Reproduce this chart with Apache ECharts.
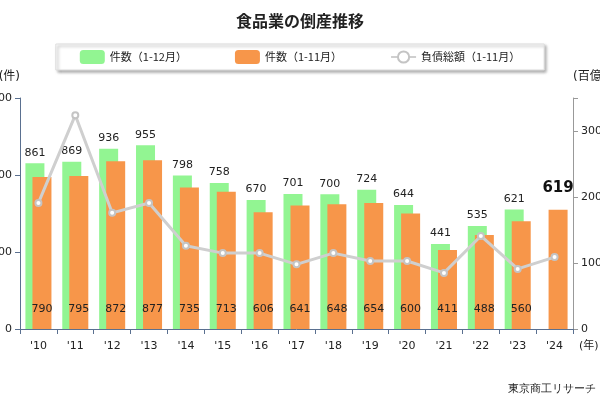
<!DOCTYPE html>
<html>
<head>
<meta charset="utf-8">
<script src="https://cdn.jsdelivr.net/npm/echarts@6/dist/echarts.min.js"></script>
<style>body{margin:0}#chart{width:600px;height:400px}</style>
</head>
<body>
<div id="chart"></div>
<script>
var years = ["'10","'11","'12","'13","'14","'15","'16","'17","'18","'19","'20","'21","'22","'23","'24"];
var full = [861,869,936,955,798,758,670,701,700,724,644,441,535,621,null];
var nov = [790,795,872,877,735,713,606,641,648,654,600,411,488,560,619];
var debt = [191,324,176,191,126,115,115,98,115,103,103,85,141,91,109];

var font = 'Verdana, "DejaVu Sans", "Noto Sans CJK JP"';
var chart = echarts.init(document.getElementById('chart'));
chart.setOption({
    textStyle:{fontFamily:font},
    title:{text:'食品業の倒産推移',left:'center',top:8,textStyle:{fontSize:16,fontWeight:'bold',color:'#222',fontFamily:'"Noto Sans CJK JP"'}},
    legend:{top:44,left:'center',itemGap:48,padding:[6,24],backgroundColor:'#fff',borderColor:'#ddd',borderWidth:1,
        shadowColor:'rgba(0,0,0,0.35)',shadowBlur:3,shadowOffsetX:2,shadowOffsetY:2,
        textStyle:{fontSize:11,color:'#222',fontFamily:'"Noto Sans CJK JP"'}},
    grid:{left:20,right:27,top:98,bottom:71,outerBoundsMode:'none',containLabel:false},
    graphic:[{type:'text',right:4,bottom:6,style:{text:'東京商工リサーチ',fontSize:11,fill:'#222',font:'11px "Noto Sans CJK JP"'}}],
    xAxis:{type:'category',data:years,axisLine:{lineStyle:{color:'#5a7090'}},axisTick:{show:true},
        axisLabel:{color:'#222',fontSize:11,margin:12},
        name:'(年)',nameLocation:'end',nameGap:6,nameTextStyle:{fontSize:11,color:'#222',verticalAlign:'top',padding:[12,0,0,0]}},
    yAxis:[{type:'value',min:0,max:1200,interval:400,splitLine:{show:false},
        axisLine:{show:true,lineStyle:{color:'#5a7090'}},axisTick:{show:true},
        axisLabel:{color:'#222',fontSize:11,formatter:function(v){return String(v);}},name:'(件)',nameTextStyle:{color:'#222',align:'right'}},
      {type:'value',min:0,max:350,interval:100,splitLine:{show:false},
        axisLine:{show:true,lineStyle:{color:'#999'}},axisTick:{show:true},
        axisLabel:{color:'#222',fontSize:11,formatter:function(v){return v>300?'':v;}},
        name:'(百億円)',nameTextStyle:{color:'#222',align:'left'}}],
    series:[
      {name:'件数（1-12月）',type:'bar',data:full,barWidth:19,barGap:'-63%',itemStyle:{color:'#92f592'},
        label:{show:true,position:'top',color:'#222',fontSize:11}},
      {name:'件数（1-11月）',type:'bar',data:nov.map(function(v,i){
            return i==nov.length-1?{value:v,label:{position:'top',fontWeight:'bold',fontSize:15,color:'#111'}}:v;}),
        barWidth:19,itemStyle:{color:'#f7964a'},
        label:{show:true,position:'insideBottom',distance:14,color:'#222',fontSize:11}},
      {name:'負債総額（1-11月）',type:'line',yAxisIndex:1,data:debt,symbol:'circle',symbolSize:6,
        lineStyle:{color:'#cfcfcf',width:3},itemStyle:{color:'#fff',borderColor:'#c4c4c4',borderWidth:2}}
    ]
});
</script>
</body>
</html>
